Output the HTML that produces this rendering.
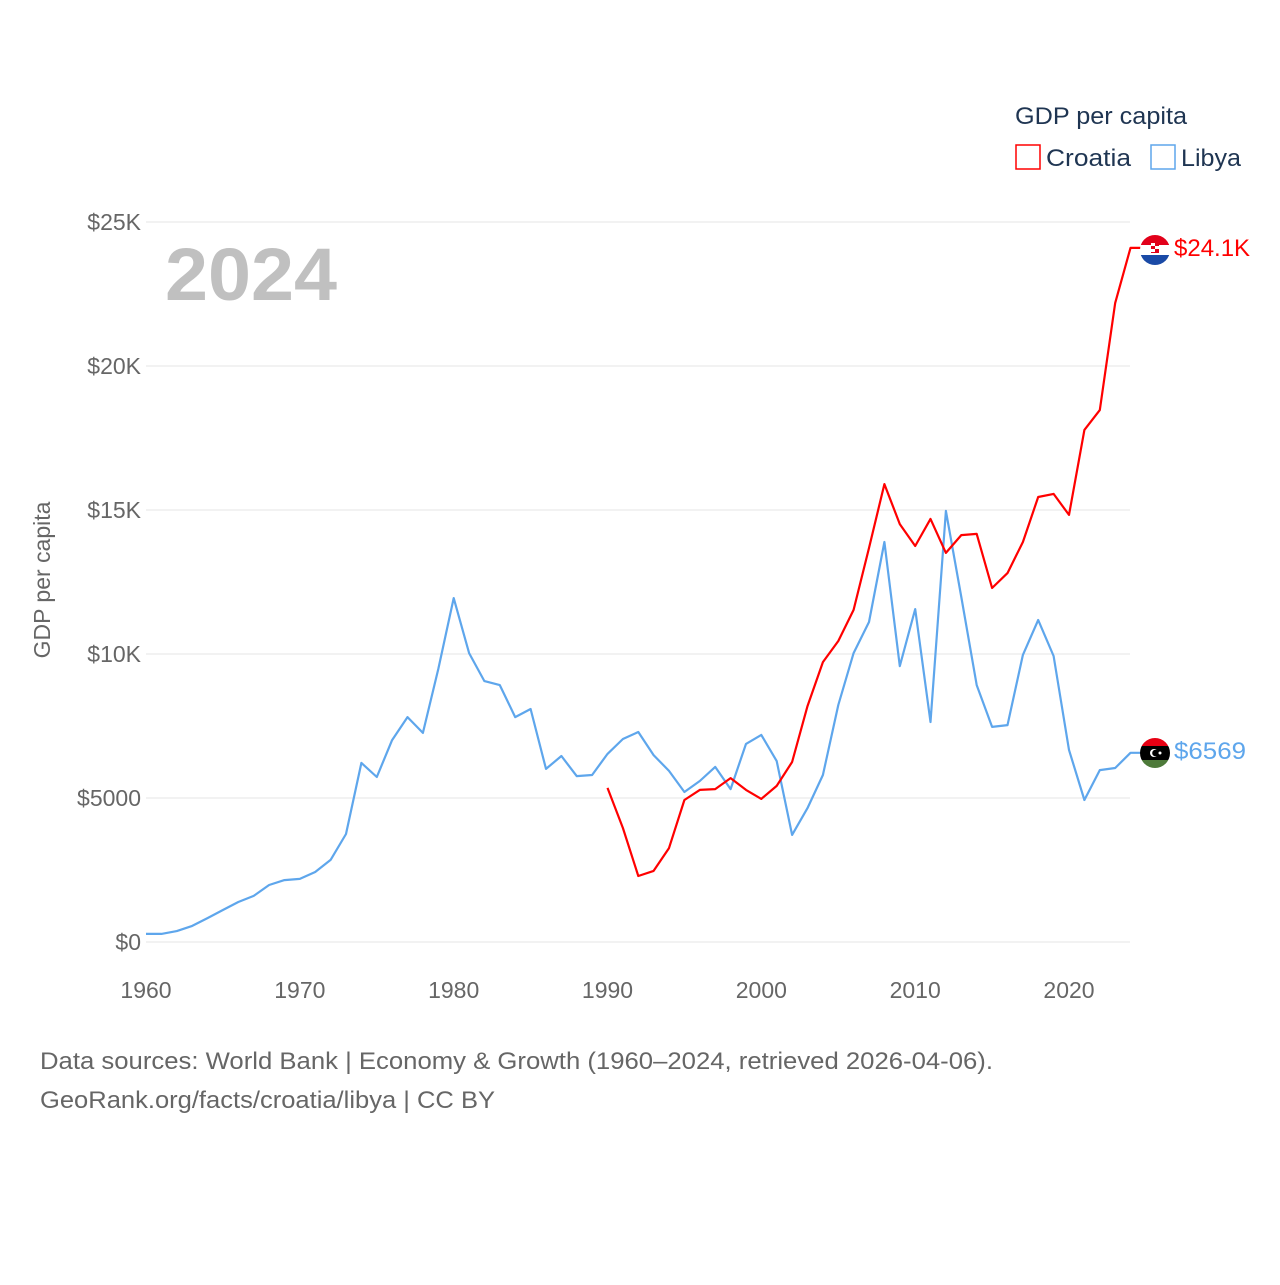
<!DOCTYPE html>
<html><head><meta charset="utf-8">
<style>
html,body{margin:0;padding:0;background:#fff;}
body{width:1280px;height:1280px;overflow:hidden;font-family:"Liberation Sans",sans-serif;}
svg text{font-family:"Liberation Sans",sans-serif;}
</style></head>
<body>
<svg id="chart" width="1280" height="1280" viewBox="0 0 1280 1280" xmlns="http://www.w3.org/2000/svg">
<g id="grid"></g>
<g id="yticks"></g>
<g id="xticks"></g>
<text x="165" y="300" font-size="74" font-weight="bold" fill="#c0c0c0" textLength="172" lengthAdjust="spacingAndGlyphs">2024</text>
<text transform="translate(50,580) rotate(-90)" text-anchor="middle" font-size="23" fill="#666">GDP per capita</text>
<g id="series"></g>
<g>
<text x="1015" y="124" font-size="24" fill="#1f3552" textLength="172" lengthAdjust="spacingAndGlyphs">GDP per capita</text>
<rect x="1016" y="145" width="24" height="24" fill="none" stroke="#ff0000" stroke-width="1.5"/>
<text x="1046" y="166" font-size="24" fill="#1f3552" textLength="85" lengthAdjust="spacingAndGlyphs">Croatia</text>
<rect x="1151" y="145" width="24" height="24" fill="none" stroke="#5ea6ec" stroke-width="1.5"/>
<text x="1181" y="166" font-size="24" fill="#1f3552" textLength="60" lengthAdjust="spacingAndGlyphs">Libya</text>
</g>
<g>
<clipPath id="cc"><circle cx="1155" cy="250" r="15"/></clipPath>
<g clip-path="url(#cc)"><rect x="1140" y="235" width="30" height="10" fill="#e2001a"/><rect x="1140" y="245" width="30" height="10" fill="#fff"/><rect x="1140" y="255" width="30" height="10" fill="#1a4aa6"/><rect x="1151" y="243" width="8" height="10" fill="#e2001a"/><rect x="1151" y="243" width="4" height="3" fill="#fff"/><rect x="1155" y="246" width="4" height="3" fill="#fff"/><rect x="1151" y="249" width="4" height="3" fill="#fff"/></g>
</g>
<text x="1174" y="256" font-size="24" fill="#ff0000">$24.1K</text>
<g>
<clipPath id="cl"><circle cx="1155" cy="753" r="15"/></clipPath>
<g clip-path="url(#cl)"><rect x="1140" y="738" width="30" height="8" fill="#e70013"/><rect x="1140" y="746" width="30" height="14" fill="#000"/><rect x="1140" y="760" width="30" height="8" fill="#4e7a3a"/><circle cx="1154" cy="753" r="4" fill="#fff"/><circle cx="1155.5" cy="753" r="3.3" fill="#000"/><circle cx="1160" cy="753" r="1.5" fill="#fff"/></g>
</g>
<text x="1174" y="759" font-size="24" fill="#5ea6ec" textLength="72" lengthAdjust="spacingAndGlyphs">$6569</text>
<text x="40" y="1069" font-size="24" fill="#666" textLength="953" lengthAdjust="spacingAndGlyphs">Data sources: World Bank | Economy &amp; Growth (1960–2024, retrieved 2026-04-06).</text>
<text x="40" y="1108" font-size="24" fill="#666" textLength="455" lengthAdjust="spacingAndGlyphs">GeoRank.org/facts/croatia/libya | CC BY</text>
</svg>
<script>
const libyaYears=[1960,1961,1962,1963,1964,1965,1966,1967,1968,1969,1970,1971,1972,1973,1974,1975,1976,1977,1978,1979,1980,1981,1982,1983,1984,1985,1986,1987,1988,1989,1990,1991,1992,1993,1994,1995,1996,1997,1998,1999,2000,2001,2002,2003,2004,2005,2006,2007,2008,2009,2010,2011,2012,2013,2014,2015,2016,2017,2018,2019,2020,2021,2022,2023,2024];
const libyaValues=[280,280,380,560,830,1110,1390,1600,1980,2150,2190,2430,2850,3750,6220,5730,7010,7810,7260,9480,11940,10030,9060,8920,7810,8090,6010,6460,5760,5800,6530,7050,7290,6490,5940,5210,5590,6080,5310,6880,7190,6280,3720,4650,5800,8230,10030,11110,13890,9580,11560,7640,14970,11980,8920,7470,7530,9970,11180,9930,6670,4930,5970,6040,6569];
const croatiaYears=[1990,1991,1992,1993,1994,1995,1996,1997,1998,1999,2000,2001,2002,2003,2004,2005,2006,2007,2008,2009,2010,2011,2012,2013,2014,2015,2016,2017,2018,2019,2020,2021,2022,2023,2024];
const croatiaValues=[5350,3960,2290,2470,3260,4930,5280,5310,5690,5280,4970,5420,6250,8190,9720,10450,11530,13680,15900,14510,13750,14690,13510,14130,14170,12290,12810,13890,15450,15560,14830,17780,18470,22190,24100];
const yTicks=[0,5000,10000,15000,20000,25000];
const yTickLabels=["$0","$5000","$10K","$15K","$20K","$25K"];
const xTicks=[1960,1970,1980,1990,2000,2010,2020];

const NS="http://www.w3.org/2000/svg";
function xScale(yr){return 146+(yr-1960)*(1069-146)/60;}
function yScale(v){return 942-v*(720/25000);}
function mk(tag,attrs,parent){const e=document.createElementNS(NS,tag);for(const k in attrs)e.setAttribute(k,attrs[k]);parent.appendChild(e);return e;}
const grid=document.getElementById('grid'),yt=document.getElementById('yticks'),xt=document.getElementById('xticks'),ser=document.getElementById('series');
yTicks.forEach((v,i)=>{
  const l=mk('line',{x1:146,x2:1130,y1:yScale(v),y2:yScale(v),stroke:'#e6e6e6','stroke-width':1},grid);
  
  
  const t=mk('text',{x:141,y:yScale(v)+8,'text-anchor':'end','font-size':23,fill:'#666'},yt);
  t.textContent=yTickLabels[i];
  
  
});
xTicks.forEach(yr=>{
  const t=mk('text',{x:xScale(yr),y:998,'text-anchor':'middle','font-size':23,fill:'#666'},xt);
  t.textContent=yr;
  
  
});
function line(years,vals,color,name){
  let d=years.map((y,i)=>(i?'L':'M')+xScale(y).toFixed(1)+','+yScale(vals[i]).toFixed(1)).join('');
  d+='L'+(xScale(years[years.length-1])+10).toFixed(1)+','+yScale(vals[vals.length-1]).toFixed(1);
  const p=mk('path',{d:d,fill:'none',stroke:color,'stroke-width':2.2,'stroke-linejoin':'round'},ser);
  
  
}
line(libyaYears,libyaValues,'#5ea6ec','line-libya');
line(croatiaYears,croatiaValues,'#ff0000','line-croatia');
</script>
</body></html>
